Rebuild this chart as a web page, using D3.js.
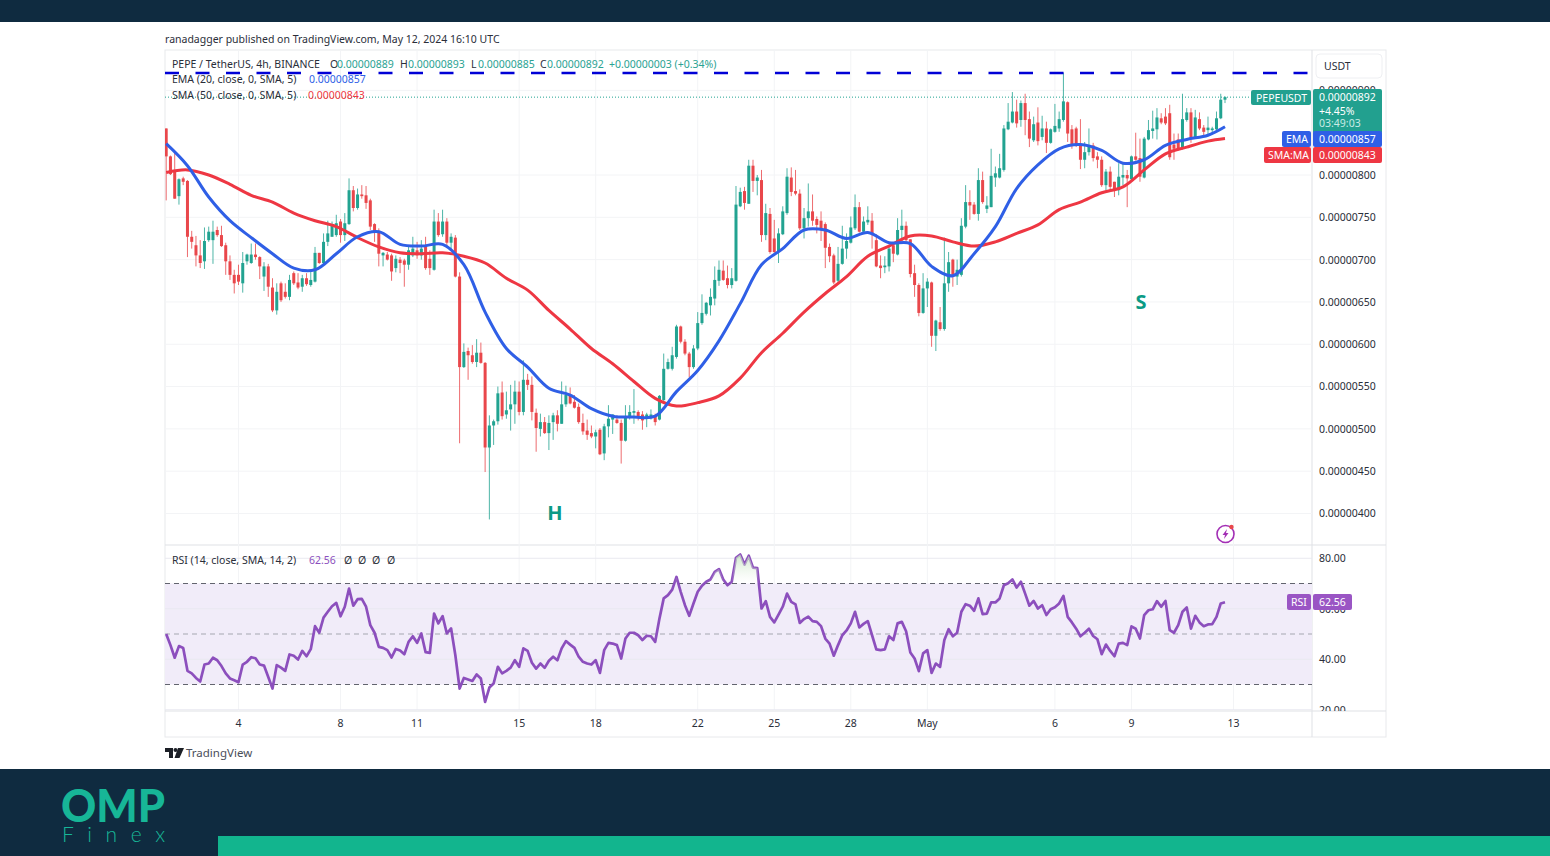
<!DOCTYPE html>
<html>
<head>
<meta charset="utf-8">
<style>
  html, body { margin: 0; padding: 0; background: #fff; }
  svg { display: block; }
  text { font-family: "Noto Sans", sans-serif; font-size: 10.5px; fill: #2a2e39; }
</style>
</head>
<body>
<div id="chart"></div>
<script src="https://cdn.jsdelivr.net/npm/d3@7"></script>
<script>
// PEPE/USDT 4h candles, prices in units of 0.00000001, one row = 10 bars
var opens = [
  855,822,806,775,796,793,727,717,705,698,
  723,723,735,729,717,698,682,682,672,698,
  696,706,703,680,692,667,640,672,662,656,
  684,673,668,678,670,674,708,696,721,727,
  729,745,729,742,782,761,777,776,770,742,
  734,705,706,705,690,700,699,694,705,711,
  705,716,701,688,745,730,745,720,726,680,
  573,592,587,579,590,578,478,504,509,543,
  517,523,529,544,520,558,552,519,500,508,
  495,508,516,506,529,539,532,526,507,498,
  495,491,499,471,503,511,511,507,486,514,
  519,520,517,512,514,516,511,534,571,571,
  585,621,603,589,573,595,625,636,646,654,
  675,687,678,670,675,763,781,766,811,793,
  794,729,754,725,709,730,755,797,781,778,
  737,749,757,748,746,742,715,705,675,695,
  713,720,737,762,733,744,746,723,693,691,
  692,717,706,735,740,724,684,670,637,666,
  673,610,626,618,672,700,680,682,739,768,
  765,754,794,760,762,797,797,806,854,862,
  875,865,885,866,841,862,845,855,838,851,
  855,865,886,854,855,836,818,827,835,822,
  818,788,804,792,782,797,800,795,822,820,
  797,842,852,854,867,869,873,836,842,831,
  865,874,844,866,856,853,853,854,867,889
];
var highs = [
  855,823,828,796,798,794,734,728,723,738,
  739,746,739,740,720,705,688,694,709,707,
  719,719,704,697,695,678,672,674,672,682,
  686,684,682,684,686,715,708,731,746,745,
  753,748,755,796,787,784,788,787,772,743,
  737,709,709,707,705,703,701,716,727,721,
  723,727,711,759,755,759,749,731,729,685,
  601,596,599,606,602,579,516,511,550,556,
  544,552,557,556,581,565,562,524,518,514,
  516,519,522,556,551,549,540,530,518,511,
  504,499,501,506,528,517,516,511,528,528,
  547,522,521,519,523,518,540,589,583,597,
  623,622,606,591,599,638,659,650,666,692,
  699,699,693,690,787,785,786,818,818,800,
  806,766,761,747,737,763,808,809,806,783,
  761,790,777,751,757,744,719,707,715,740,
  731,751,777,768,751,763,755,730,705,704,
  717,720,749,759,745,724,694,672,684,678,
  674,629,644,726,709,701,700,749,788,782,
  768,808,804,775,831,810,825,859,885,898,
  889,888,896,875,869,880,870,863,855,884,
  875,921,887,859,857,866,839,855,838,827,
  822,807,810,792,814,814,806,823,850,843,
  845,865,876,879,873,879,883,849,849,896,
  879,879,877,874,859,869,857,875,896,893
];
var lows = [
  770,800,772,765,788,703,713,692,690,689,
  721,695,727,715,682,676,660,670,661,694,
  695,700,677,663,656,638,635,650,654,652,
  670,665,662,669,668,673,695,694,716,727,
  727,720,722,741,757,759,772,760,735,721,
  692,692,699,675,685,684,668,688,703,701,
  700,688,682,687,727,727,715,713,679,483,
  572,558,577,573,577,449,393,481,505,511,
  512,498,506,516,516,546,510,473,491,494,
  475,487,497,506,526,529,524,506,493,487,
  489,477,469,463,490,494,506,459,485,511,
  506,510,499,502,511,504,510,532,570,569,
  583,601,587,561,571,593,623,634,634,646,
  669,675,666,666,674,762,759,766,780,776,
  721,723,707,707,696,729,753,775,776,735,
  725,739,740,731,722,690,697,671,673,694,
  701,719,735,732,731,741,713,691,678,684,
  686,697,705,722,721,679,656,633,636,644,
  597,592,616,616,662,668,670,680,737,747,
  753,746,766,755,762,786,796,804,853,861,
  856,857,847,833,839,835,841,826,837,850,
  851,863,839,831,833,807,808,823,816,808,
  786,782,780,774,776,788,762,792,817,792,
  796,841,843,842,860,859,818,818,829,830,
  863,838,843,853,847,847,849,852,866,885
];
var closes = [
  822,801,772,795,792,727,721,705,696,722,
  733,733,729,716,698,682,672,674,696,706,
  706,703,692,692,668,640,662,652,656,676,
  672,667,678,671,676,708,696,721,731,740,
  743,729,743,782,761,777,775,767,739,733,
  707,708,700,686,701,696,694,711,713,705,
  713,690,690,745,729,745,720,727,680,573,
  591,587,579,590,578,478,504,509,542,515,
  522,529,544,520,558,552,520,501,508,495,
  507,516,506,529,540,530,525,508,497,493,
  491,496,470,503,512,517,507,486,514,520,
  521,515,510,517,517,508,539,571,579,587,
  621,603,589,573,595,625,637,649,656,676,
  688,676,670,678,765,780,767,811,793,797,
  729,755,709,709,731,757,798,780,778,737,
  749,757,746,741,735,714,704,673,695,713,
  722,738,762,733,745,747,731,692,690,693,
  713,707,735,740,723,683,670,637,666,674,
  610,628,618,672,697,680,688,740,768,764,
  754,794,768,764,799,802,808,855,863,875,
  861,885,865,843,860,840,855,838,854,858,
  866,887,849,835,835,818,827,835,820,818,
  788,804,786,782,798,800,796,822,818,798,
  843,853,855,868,862,861,821,831,831,866,
  874,843,868,855,851,856,855,867,889,892
];

// moving averages, plus the last one
var maBars = [0,5,10,15,20,25,30,35,40,45,50,55,60,65,70,75,80,85,90,95,100,105,110,115,120,125,130,135,140,145,150,155,160,165,170,175,180,185,190,195,200,205,210,215,220,225,230,235,240,245,249];
var emaValues = [837,811,774,746,726,707,690,688,707,727,733,718,716,718,694,638,595,573,548,540,524,515,514,515,544,569,604,648,694,713,735,735,725,732,720,719,692,681,707,739,784,812,831,836,829,814,818,835,842,847,857];
var smaValues = [803,806,800,789,776,768,755,746,739,726,715,708,707,708,704,696,678,664,640,618,595,577,556,536,527,531,539,560,590,613,638,660,680,704,716,728,728,721,716,721,731,741,759,768,779,786,806,825,833,840,843];

var rsiValues = [
  50,45.6,40.6,45.2,44.5,35.4,34.4,32.6,31.2,37.9,
  38.3,40.6,39.6,37.3,34.4,32.4,31.7,30.9,37.9,39,
  40.8,40.4,37.9,37.5,33,28.4,37.7,36.7,35.4,41.9,
  41.4,39.9,43.3,41.2,44,53.1,50.5,56.5,58.8,61,
  62.3,57,60.8,68,61.2,63.8,63.9,60.8,53.5,50.5,
  44.9,44.5,43.6,40.7,44.1,43.5,42,46.9,49.1,46.5,
  50.2,42.8,42.5,58.1,54.2,57.1,50.2,52.2,41.6,28.4,
  32.6,32,31.4,34,32.4,23.1,28.8,30.4,37,34.4,
  35.4,36.7,39.6,37,44.3,43.3,38.6,36.3,38.3,36.6,
  39.4,41,39.6,44.3,47.2,45.8,44.5,41,39,38.3,
  37.9,39.6,34.6,43.6,46.5,46.2,45.6,40.3,48.2,50.5,
  50.5,49.5,47.6,49.3,49.1,46.9,56.1,64.1,65.4,67.6,
  72.6,66.7,61.4,57.2,62.1,66.7,69.1,70.7,71.6,74.6,
  75.7,71.6,69.3,70.7,80.2,81.5,77.5,81,76.3,76.1,
  60.1,63,56.8,54.6,57.7,60.8,66,62.7,61.7,54.4,
  55.9,56.9,55.1,54.8,53.1,48.2,46.2,41.4,45.6,49.5,
  51.4,54.2,58.8,52.6,54,55.1,49.5,43.9,43.6,43.9,
  49.1,47.6,54.2,54.8,51.1,42.7,40.3,35.3,42.3,43.6,
  34.6,38.3,37,47.6,51.9,49.1,50.5,58.8,61.8,61.2,
  59.2,64.1,57.9,58.1,62.5,62.5,64.1,69.3,70.1,71.6,
  68.4,70.7,66,61.2,63.1,60.1,61.4,57.5,59.8,60.6,
  62.1,65.1,56.8,54.6,52.1,49.1,50.5,52.1,49.2,47.9,
  42,45.8,43.3,41.2,46.2,46.5,45.6,53,52.1,48.2,
  57.5,59.4,59.8,63,60.8,63.1,51.5,50.5,53.5,58.8,
  60.5,52.1,57.2,54.6,53.1,53.8,53.9,56.8,62.1,62.56
];

var priceTicks = [400,450,500,550,600,650,700,750,800,900];
var rsiTicks = [20,40,60,80];
var rsiBands = [70,50,30];
var dateTicks = ["2024-04-04","2024-04-08","2024-04-11","2024-04-15","2024-04-18","2024-04-22","2024-04-25","2024-04-28","2024-05-01","2024-05-06","2024-05-09","2024-05-13"];
var dateLabels = ["4","8","11","15","18","22","25","28","May","6","9","13"];
var resistanceLevel = 920.5;
var lastPrice = 892;

var GREEN = "#22a391", RED = "#e9474b", BLUE = "#2f5fe6", MA_RED = "#ee3743", PURPLE = "#8c4fbd";
var NAVY = "#0f2b40", TEAL = "#12b58e";
var INK = "#2a2e39", GRID = "#f3f4f6", BORDER = "#e8e9ec";

var svg = d3.select("#chart").append("svg").attr("width", 1550).attr("height", 856);

// 4h bars starting Apr 1 04:00 UTC
var firstBar = Date.UTC(2024, 3, 1, 4);
var barTime = i => new Date(firstBar + i * 4 * 3600 * 1000);

var xScale = d3.scaleUtc().domain([barTime(0), barTime(249)]).range([166.2, 1225]);
var yScale = d3.scaleLinear().domain([400, 800]).range([513.5, 175]);
var rsiScale = d3.scaleLinear().domain([30, 70]).range([684.5, 583.5]);

var left = 165, right = 1312, frameRight = 1386, top0 = 50, paneBottom = 545, axisTop = 711, frameBottom = 737;

var defs = svg.append("defs");
defs.append("clipPath").attr("id", "pricePane").append("rect")
  .attr("x", left).attr("y", top0).attr("width", right - left).attr("height", paneBottom - top0);
defs.append("clipPath").attr("id", "rsiPane").append("rect")
  .attr("x", left).attr("y", paneBottom).attr("width", right - left).attr("height", axisTop - paneBottom);
defs.append("clipPath").attr("id", "rsiAxisClip").append("rect")
  .attr("x", right).attr("y", paneBottom).attr("width", frameRight - right).attr("height", axisTop - paneBottom);
defs.append("clipPath").attr("id", "overbought").append("rect")
  .attr("x", left).attr("y", paneBottom).attr("width", right - left).attr("height", rsiScale(70) - paneBottom);
// overbought fill fades out towards the 70 line
var glow = defs.append("linearGradient").attr("id", "obGlow").attr("gradientUnits", "userSpaceOnUse")
  .attr("x1", 0).attr("x2", 0).attr("y1", rsiScale(82)).attr("y2", rsiScale(70));
glow.append("stop").attr("offset", "0%").attr("stop-color", "#bfe0ba").attr("stop-opacity", 0.85);
glow.append("stop").attr("offset", "100%").attr("stop-color", "#e9f4e6").attr("stop-opacity", 0);

// page bands
svg.append("rect").attr("width", 1550).attr("height", 22).attr("fill", NAVY);
svg.append("rect").attr("y", 769).attr("width", 1550).attr("height", 87).attr("fill", NAVY);
svg.append("rect").attr("x", 218).attr("y", 836).attr("width", 1332).attr("height", 20).attr("fill", TEAL);

// footer logo
svg.append("text").attr("x", 61).attr("y", 822).attr("textLength", 104).attr("lengthAdjust", "spacingAndGlyphs")
  .style("font-family", "Lato").style("font-weight", 900).style("font-size", "46px").style("fill", "#17b697").text("OMP");
svg.append("text").attr("x", 62).attr("y", 842).attr("textLength", 103)
  .style("font-family", "Lato").style("font-weight", 300).style("font-size", "21px").style("fill", "#17b697").text("Finex");

svg.append("text").attr("x", 165).attr("y", 43).attr("class", "title")
  .text("ranadagger published on TradingView.com, May 12, 2024 16:10 UTC");

// frame and pane separators
svg.append("rect").attr("x", left).attr("y", top0).attr("width", frameRight - left).attr("height", frameBottom - top0)
  .attr("fill", "none").attr("stroke", BORDER);
svg.append("line").attr("x1", right).attr("x2", right).attr("y1", top0).attr("y2", frameBottom).attr("stroke", "#dfe1e5");
svg.append("line").attr("x1", left).attr("x2", frameRight).attr("y1", paneBottom).attr("y2", paneBottom).attr("stroke", "#dfe1e5");
svg.append("line").attr("x1", left).attr("x2", frameRight).attr("y1", axisTop).attr("y2", axisTop).attr("stroke", "#dfe1e5");

// grid
var dateTickValues = dateTicks.map(d => new Date(d + "T00:00:00Z"));
svg.append("g").selectAll("line").data(dateTickValues).enter().append("line")
  .attr("x1", d => xScale(d)).attr("x2", d => xScale(d)).attr("y1", top0).attr("y2", axisTop)
  .attr("stroke", GRID);
svg.append("g").selectAll("line").data(priceTicks).enter().append("line")
  .attr("x1", left).attr("x2", right).attr("y1", d => yScale(d)).attr("y2", d => yScale(d))
  .attr("stroke", GRID);

// candles
var bars = d3.range(closes.length).map(i => ({ t: barTime(i), o: opens[i], h: highs[i], l: lows[i], c: closes[i] }));
var candleGroup = svg.append("g").attr("clip-path", "url(#pricePane)");
candleGroup.selectAll(".wick").data(bars).enter().append("line")
  .attr("class", "wick")
  .attr("x1", d => xScale(d.t)).attr("x2", d => xScale(d.t))
  .attr("y1", d => yScale(d.h)).attr("y2", d => yScale(d.l))
  .attr("stroke", d => d.c >= d.o ? GREEN : RED).attr("stroke-width", 1).attr("stroke-opacity", 0.8);
candleGroup.selectAll(".body").data(bars).enter().append("rect")
  .attr("class", "body")
  .attr("x", d => xScale(d.t) - 1.5).attr("width", 3)
  .attr("y", d => yScale(Math.max(d.o, d.c)))
  .attr("height", d => Math.max(1, Math.abs(yScale(d.o) - yScale(d.c))))
  .attr("fill", d => d.c >= d.o ? GREEN : RED);

// moving averages
var maLine = d3.line().x(d => xScale(barTime(d[0]))).y(d => yScale(d[1])).curve(d3.curveCatmullRom);
candleGroup.append("path").datum(maBars.map((b, i) => [b, smaValues[i]]))
  .attr("d", maLine).attr("fill", "none").attr("stroke", MA_RED).attr("stroke-width", 3);
candleGroup.append("path").datum(maBars.map((b, i) => [b, emaValues[i]]))
  .attr("d", maLine).attr("fill", "none").attr("stroke", BLUE).attr("stroke-width", 3);

// resistance line and last price line
candleGroup.append("line").attr("x1", left).attr("x2", right)
  .attr("y1", yScale(resistanceLevel)).attr("y2", yScale(resistanceLevel))
  .attr("stroke", "#0000d6").attr("stroke-width", 2.6).attr("stroke-dasharray", "14,16.5");
svg.append("line").attr("x1", left).attr("x2", 1251)
  .attr("y1", yScale(lastPrice)).attr("y2", yScale(lastPrice))
  .attr("stroke", GREEN).attr("stroke-dasharray", "1,2");

// pattern labels
svg.append("text").attr("x", 555).attr("y", 520).attr("text-anchor", "middle")
  .style("font-family", "Open Sans").style("font-weight", 700).style("font-size", "20px").style("fill", "#0b9a85").text("H");
svg.append("text").attr("x", 1141).attr("y", 309).attr("text-anchor", "middle")
  .style("font-family", "Open Sans").style("font-weight", 700).style("font-size", "20px").style("fill", "#0b9a85").text("S");

// price axis
var priceAxis = d3.axisRight(yScale).tickValues(priceTicks).tickSize(0).tickPadding(7)
  .tickFormat(d => (d / 1e8).toFixed(8));
svg.append("g").attr("transform", `translate(${right}, 0)`).call(priceAxis)
  .call(g => g.select(".domain").remove())
  .selectAll("text").style("font-family", "Noto Sans").style("font-size", "10.5px").style("fill", INK);

// time axis
var timeAxis = d3.axisBottom(xScale).tickValues(dateTickValues).tickSize(0).tickPadding(8)
  .tickFormat((d, i) => dateLabels[i]);
svg.append("g").attr("transform", `translate(-0.5, ${axisTop + 1})`).call(timeAxis)
  .call(g => g.select(".domain").remove())
  .selectAll("text").style("font-family", "Noto Sans").style("font-size", "10.5px").style("fill", INK);

// RSI pane
var rsiGroup = svg.append("g").attr("clip-path", "url(#rsiPane)");
rsiGroup.append("rect").attr("x", left).attr("width", right - left)
  .attr("y", rsiScale(70)).attr("height", rsiScale(30) - rsiScale(70)).attr("fill", "#f1ecf9");
rsiGroup.selectAll(".rsiGrid").data(rsiTicks).enter().append("line")
  .attr("x1", left).attr("x2", right).attr("y1", d => rsiScale(d)).attr("y2", d => rsiScale(d))
  .attr("stroke", "#e9e9f0");
rsiGroup.selectAll(".rsiBand").data(rsiBands).enter().append("line")
  .attr("x1", left).attr("x2", right).attr("y1", d => rsiScale(d)).attr("y2", d => rsiScale(d))
  .attr("stroke", d => d === 50 ? "#a5a7b0" : "#62646e").attr("stroke-dasharray", "5,4");
var rsiPoints = rsiValues.map((v, i) => ({ t: barTime(i), v: v }));
svg.append("path").datum(rsiPoints).attr("clip-path", "url(#overbought)")
  .attr("d", d3.area().x(d => xScale(d.t)).y0(rsiScale(70)).y1(d => rsiScale(d.v)))
  .attr("fill", "url(#obGlow)");
rsiGroup.append("path").datum(rsiPoints)
  .attr("d", d3.line().x(d => xScale(d.t)).y(d => rsiScale(d.v)))
  .attr("fill", "none").attr("stroke", PURPLE).attr("stroke-width", 2.7).attr("stroke-linejoin", "round");

var rsiAxis = d3.axisRight(rsiScale).tickValues(rsiTicks).tickSize(0).tickPadding(7).tickFormat(d => d.toFixed(2));
svg.append("g").attr("clip-path", "url(#rsiAxisClip)").append("g")
  .attr("transform", `translate(${right}, 0)`).call(rsiAxis)
  .call(g => g.select(".domain").remove())
  .selectAll("text").style("font-family", "Noto Sans").style("font-size", "10.5px").style("fill", INK);

// legends
function label(x, y, txt, color) {
  return svg.append("text").attr("x", x).attr("y", y).style("fill", color || INK).text(txt);
}
var ohlc = "#2ba393";
label(172, 68, "PEPE / TetherUS, 4h, BINANCE");
label(330, 68, "O"); label(337, 68, "0.00000889", ohlc);
label(400, 68, "H"); label(408, 68, "0.00000893", ohlc);
label(471, 68, "L"); label(478, 68, "0.00000885", ohlc);
label(540, 68, "C"); label(547, 68, "0.00000892", ohlc);
label(609, 68, "+0.00000003 (+0.34%)", ohlc);
label(172, 83, "EMA (20, close, 0, SMA, 5)"); label(309, 83, "0.00000857", BLUE);
label(172, 99, "SMA (50, close, 0, SMA, 5)"); label(308, 99, "0.00000843", MA_RED);
label(172, 564, "RSI (14, close, SMA, 14, 2)"); label(309, 564, "62.56", PURPLE);
[344, 358, 372, 387].forEach(x => label(x, 564, "\u00d8"));

// USDT box
svg.append("rect").attr("x", 1316).attr("y", 54).attr("width", 66).attr("height", 24).attr("rx", 4)
  .attr("fill", "#fff").attr("stroke", "#eeeff2");
label(1324, 70, "USDT");

// tags on the right
function tag(x, y, w, h, fill, txt, textX) {
  svg.append("rect").attr("x", x).attr("y", y).attr("width", w).attr("height", h).attr("rx", 2).attr("fill", fill);
  if (txt) svg.append("text").attr("x", textX).attr("y", y + h / 2 + 4).style("fill", "#fff").text(txt);
}
tag(1251, 90, 60, 15, "#22a08f", "PEPEUSDT", 1256);
tag(1313, 89, 69, 45, "#22a08f", null, 1319);
label(1319, 101, "0.00000892", "#fff");
label(1319, 115, "+4.45%", "#fff");
label(1319, 127, "03:49:03", "#c9ebe5");
tag(1282, 131, 29, 16, "#2f5fe6", "EMA", 1286);
tag(1313, 131, 69, 16, "#2f5fe6", "0.00000857", 1319);
tag(1264, 147, 47, 16, "#ee3743", "SMA:MA", 1268);
tag(1313, 147, 69, 16, "#ee3743", "0.00000843", 1319);
tag(1287, 594, 24, 16, "#9a55c4", "RSI", 1291);
tag(1313, 594, 39, 16, "#9a55c4", "62.56", 1319);

// small replay icon
var icon = svg.append("g").attr("transform", "translate(1225.5, 534)");
icon.append("circle").attr("r", 8.5).attr("fill", "#fff").attr("stroke", "#a32fb5").attr("stroke-width", 1.6);
icon.append("path").attr("d", "M1.5,-5 L-3,1 L-0.5,1 L-1.5,5 L3,-1 L0.5,-1 Z").attr("fill", "#a32fb5");
icon.append("circle").attr("cx", 6).attr("cy", -7).attr("r", 2.2).attr("fill", "#e9474b");

// TradingView mark
var tv = svg.append("g").attr("fill", "#1c1f26");
tv.append("path").attr("d", "M165,748 H173 V758 H169 V752 H165 Z");
tv.append("circle").attr("cx", 175.5).attr("cy", 750).attr("r", 2);
tv.append("path").attr("d", "M178,748 H184 L179.5,758 H174.5 Z");
svg.append("text").attr("x", 186).attr("y", 757).style("font-size", "11.5px").style("fill", "#4a4e59").text("TradingView");
</script>
</body>
</html>
